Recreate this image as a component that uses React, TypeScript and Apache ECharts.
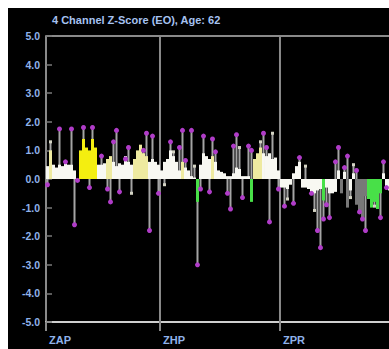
import React, { useEffect, useRef } from "react";
import * as echarts from "echarts";

const TITLE = "4 Channel Z-Score (EO), Age: 62";
const channelLabels = ["ZAP", "ZHP", "ZPR"];
const channelLabelBins = [3, 41, 81];
const channelBoundaries = [40, 80];
const yTicks = [-5, -4, -3, -2, -1, 0, 1, 2, 3, 4, 5];

// Filled bars: first bin index of each run + values + colour codes
const seg1Start = 2;
const seg1Fill = [0.45, 1.0, 0.5, 0.4, 0.5, 0.45, 0.55, 0.5, 0.5, 0.3, 0, 1.0, 1.4, 1.1, 1.0, 1.4, 1.1, 0.5, 0.5, 0.55, 0.7, 0.8, 0.6, 0.45, 0.55, 0.5, 0.8, 0.6, 0.5, 0.7, 1.0, 1.2, 0.9, 0.8, 0.6, 0.7, 0.6, 0.5];
const seg1Color = ["W", "P", "W", "W", "W", "W", "W", "W", "W", "W", "W", "Y", "Y", "Y", "Y", "Y", "Y", "W", "W", "W", "P", "P", "W", "W", "W", "W", "W", "W", "W", "P", "P", "P", "P", "P", "W", "W", "W", "W"];

const seg2Start = 40;
const seg2Fill = [0.3, 0.6, 0.7, 1.0, 0.8, 0.6, 0.3, 0.6, 0.4, 0.3, 0.1, 0.05, -0.8, 0.5, 0.9, 0.8, 0.7, 0.8, 0.6, 0.3, 0.25, 0.2, 0.1, 0.1, 0.2, 0.4, 0.35, 0.1, 0.1, 0.1, -0.8, 0.7, 0.9, 1.1, 0.9, 0.8, 0.9, 0.7, 0.75, 0.3];
const seg2Color = ["W", "W", "W", "W", "W", "W", "W", "P", "W", "W", "W", "W", "G", "W", "W", "W", "W", "P", "W", "W", "W", "W", "W", "W", "W", "W", "W", "W", "W", "W", "G", "P", "P", "P", "W", "W", "W", "W", "W", "W"];

const seg3Start = 80;
const seg3Fill = [-0.3, -0.3, -0.35, -0.2, 0.2, 0.45, 0.6, -0.3, -0.3, -0.35, -0.45, -0.5, -0.4, -0.35, -0.75, -0.3, -0.5, -0.5, -0.45, 0.3, -0.5, 0.25, -1.0, -0.4, 0.2, -0.9, -1.2, -1.4, -0.6, -0.7, -1.0, -0.8, -1.05, -0.5, 0.2, -0.3, -0.4];
const seg3Color = ["W", "W", "W", "W", "W", "W", "W", "W", "W", "W", "W", "W", "W", "W", "G", "W", "W", "W", "W", "W", "D", "W", "D", "W", "W", "D", "D", "D", "D", "G", "G", "G", "G", "G", "W", "W", "W"];

// Spikes: [bin, z-value, dot kind]
const seg1Spikes: [number, number, string][] = [[2, -0.2, "m"], [3, 1.3, "l"], [6, 1.75, "m"], [8, 0.6, "m"], [10, 1.75, "m"], [11, -1.6, "m"], [12, -0.05, "m"], [14, 1.8, "m"], [16, -0.3, "m"], [17, 1.8, "m"], [20, 0.8, "m"], [22, -0.35, "m"], [23, -0.8, "m"], [24, 1.3, "m"], [25, 1.7, "m"], [26, -0.45, "m"], [28, 0.7, "m"], [29, 1.1, "m"], [30, -0.5, "l"], [34, 1.0, "m"], [35, 1.6, "m"], [36, -1.8, "m"], [37, 1.5, "m"], [39, -0.5, "m"]];
const seg2Spikes: [number, number, string][] = [[41, -0.2, "l"], [43, 1.3, "m"], [44, 0.95, "l"], [46, 1.1, "m"], [47, 1.7, "m"], [48, 0.65, "m"], [50, 1.7, "m"], [51, 0.45, "l"], [52, -3.0, "m"], [53, -0.35, "m"], [54, 1.5, "m"], [56, -0.45, "m"], [57, 1.4, "m"], [58, 0.95, "m"], [62, -0.5, "m"], [63, -1.05, "m"], [64, 1.15, "m"], [65, 1.55, "m"], [66, 1.1, "l"], [67, -0.65, "m"], [69, 1.15, "m"], [70, 1.0, "m"], [73, 1.3, "l"], [74, 1.6, "m"], [75, 1.1, "m"], [76, -1.5, "m"], [77, 1.6, "l"], [79, -0.35, "m"]];
const seg3Spikes: [number, number, string][] = [[81, -0.95, "m"], [82, -0.7, "l"], [84, -0.85, "m"], [86, 0.75, "m"], [88, 0.45, "l"], [90, -0.5, "m"], [91, -1.1, "l"], [92, -1.8, "m"], [93, -2.4, "m"], [94, -1.4, "m"], [95, -0.9, "m"], [96, -1.35, "m"], [98, 0.6, "m"], [99, 1.1, "m"], [101, 0.4, "m"], [102, 0.8, "m"], [103, -0.65, "l"], [104, 0.5, "l"], [105, 0.3, "m"], [106, -1.15, "m"], [107, -1.4, "m"], [108, -1.8, "m"], [111, -0.95, "l"], [113, -1.35, "m"], [114, 0.6, "m"], [115, -0.3, "m"]];

const FILL_COLORS: Record<string, string> = {
  W: "#f8f8f2",
  P: "#eeeaa0",
  Y: "#f4ee10",
  G: "#48e048",
  D: "#787878",
};
const DOT_COLORS: Record<string, string> = { m: "#b03cc8", l: "#d4d4c4" };
const LABEL_BLUE = "#8fb2ea";
const FONT = "Liberation Sans, Arial, sans-serif";

export default function App() {
  const ref = useRef<HTMLDivElement>(null);

  useEffect(() => {
    if (!ref.current) return;
    const chart = echarts.init(ref.current, undefined, { renderer: "svg" });

    const fills: number[][] = [];
    const fillColors: string[] = [];
    const addSeg = (start: number, vals: number[], cols: string[]) => {
      vals.forEach((v, i) => {
        fills.push([start + i, v]);
        fillColors.push(FILL_COLORS[cols[i]] || FILL_COLORS.W);
      });
    };
    addSeg(seg1Start, seg1Fill, seg1Color);
    addSeg(seg2Start, seg2Fill, seg2Color);
    addSeg(seg3Start, seg3Fill, seg3Color);

    const spikes = [...seg1Spikes, ...seg2Spikes, ...seg3Spikes];
    const spikeData = spikes.map((s) => [s[0] + 0.5, s[1]]);
    const spikeKinds = spikes.map((s) => s[2]);

    const yColors = yTicks.map((t) => (t === 5 ? "#8a8a8a" : "transparent"));

    chart.setOption({
      animation: false,
      backgroundColor: "#000",
      title: {
        text: TITLE,
        left: 39,
        top: 1,
        textStyle: {
          color: "#a6c2f0",
          fontSize: 11,
          fontWeight: "bold",
          fontFamily: FONT,
        },
      },
      grid: { left: 38, right: 0, top: 28, bottom: 27 },
      xAxis: {
        type: "value",
        min: 2,
        max: 116.34,
        axisLine: { show: true, onZero: false, lineStyle: { color: "#cfcfcf", width: 2 } },
        axisTick: {
          show: true,
          customValues: [2, ...channelBoundaries],
          length: 9,
          lineStyle: { color: "#8a8a8a", width: 2 },
        },
        axisLabel: {
          show: true,
          customValues: channelLabelBins,
          formatter: (v: number) => {
            const i = channelLabelBins.indexOf(Math.round(v));
            return i >= 0 ? channelLabels[i] : "";
          },
          align: "left",
          margin: 12,
          color: LABEL_BLUE,
          fontSize: 11,
          fontWeight: "bold",
          fontFamily: FONT,
        },
        splitLine: { show: false },
      },
      yAxis: {
        type: "value",
        min: -5,
        max: 5,
        interval: 1,
        axisLine: { show: true, lineStyle: { color: "#8a8a8a", width: 2 } },
        axisTick: { show: true, inside: true, length: 6, lineStyle: { color: "#7a7a7a", width: 1.5 } },
        axisLabel: {
          formatter: (v: number) => v.toFixed(1),
          color: LABEL_BLUE,
          fontSize: 10.5,
          fontWeight: "bold",
          margin: 6,
          fontFamily: FONT,
        },
        splitLine: { show: true, lineStyle: { color: yColors, width: 2 } },
      },
      series: [
        {
          type: "custom",
          name: "boundaries",
          z: 1,
          silent: true,
          data: channelBoundaries.map((b) => [b, 0]),
          renderItem: (params: any, api: any) => {
            const x = api.value(0);
            const p0 = api.coord([x, 5]);
            const p1 = api.coord([x, -5]);
            return {
              type: "line",
              shape: { x1: p0[0], y1: p0[1], x2: p1[0], y2: p1[1] },
              style: { stroke: "#8a8a8a", lineWidth: 2 },
            };
          },
        },
        {
          type: "custom",
          name: "whiskers",
          z: 2,
          silent: true,
          data: spikeData,
          renderItem: (params: any, api: any) => {
            const x = api.value(0);
            const v = api.value(1);
            const p0 = api.coord([x, 0]);
            const p1 = api.coord([x, v]);
            return {
              type: "line",
              shape: { x1: p0[0], y1: p0[1], x2: p1[0], y2: p1[1] },
              style: { stroke: "#a4a4a4", lineWidth: 2 },
            };
          },
        },
        {
          type: "custom",
          name: "fills",
          z: 3,
          silent: true,
          data: fills,
          renderItem: (params: any, api: any) => {
            const b = api.value(0);
            const v = api.value(1);
            const p0 = api.coord([b, 0]);
            const p1 = api.coord([b + 1, v]);
            return {
              type: "rect",
              shape: {
                x: p0[0],
                y: Math.min(p0[1], p1[1]),
                width: p1[0] - p0[0],
                height: Math.abs(p1[1] - p0[1]),
              },
              style: { fill: fillColors[params.dataIndex] },
            };
          },
        },
        {
          type: "custom",
          name: "dots",
          z: 4,
          silent: true,
          data: spikeData,
          renderItem: (params: any, api: any) => {
            const x = api.value(0);
            const v = api.value(1);
            const p = api.coord([x, v]);
            const kind = spikeKinds[params.dataIndex];
            if (kind === "l") {
              return {
                type: "rect",
                shape: { x: p[0] - 1.5, y: p[1] - 1.5, width: 3, height: 3 },
                style: { fill: DOT_COLORS.l },
              };
            }
            return {
              type: "circle",
              shape: { cx: p[0], cy: p[1], r: 2.5 },
              style: { fill: DOT_COLORS.m },
            };
          },
        },
      ],
    });

    return () => chart.dispose();
  }, []);

  return (
    <div
      ref={ref}
      style={{ position: "fixed", left: 8, top: 8, width: 381, height: 341, background: "#000" }}
    />
  );
}
